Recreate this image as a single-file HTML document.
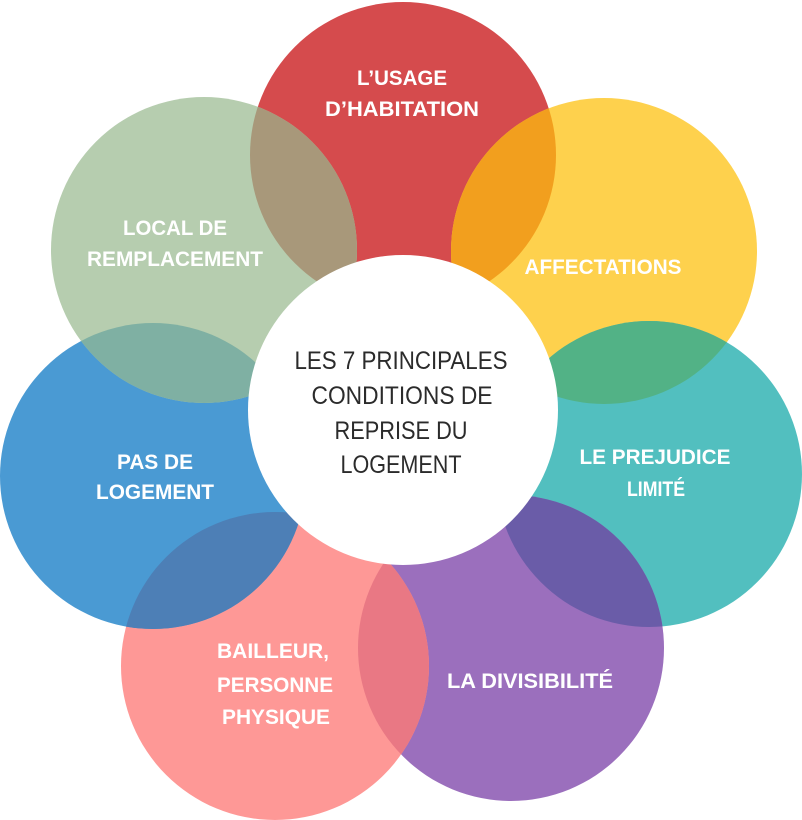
<!DOCTYPE html>
<html><head><meta charset="utf-8"><style>html,body{margin:0;padding:0;background:#fff}svg{display:block}</style></head><body>
<svg width="802" height="820" viewBox="0 0 802 820" xmlns="http://www.w3.org/2000/svg">
<defs>
<clipPath id="cR"><circle cx="403" cy="155" r="153"/></clipPath>
<clipPath id="cY"><circle cx="604" cy="251" r="153"/></clipPath>
<clipPath id="cT"><circle cx="649" cy="474" r="153"/></clipPath>
<clipPath id="cP"><circle cx="511" cy="648" r="153"/></clipPath>
<clipPath id="cK"><circle cx="275" cy="666" r="154"/></clipPath>
<clipPath id="cB"><circle cx="153" cy="476" r="153"/></clipPath>
<clipPath id="cS"><circle cx="204" cy="250" r="153"/></clipPath>
</defs>
<circle cx="403" cy="155" r="153" fill="#d54b4d"/>
<circle cx="604" cy="251" r="153" fill="#fed14d"/>
<circle cx="649" cy="474" r="153" fill="#52bfbf"/>
<circle cx="511" cy="648" r="153" fill="#9b6fbd"/>
<circle cx="275" cy="666" r="154" fill="#fe9896"/>
<circle cx="153" cy="476" r="153" fill="#4a9ad3"/>
<circle cx="204" cy="250" r="153" fill="#b6cdaf"/>
<circle cx="604" cy="251" r="153" fill="#f29f1e" clip-path="url(#cR)"/>
<circle cx="649" cy="474" r="153" fill="#52b286" clip-path="url(#cY)"/>
<circle cx="511" cy="648" r="153" fill="#6a5ca8" clip-path="url(#cT)"/>
<circle cx="275" cy="666" r="154" fill="#e97884" clip-path="url(#cP)"/>
<circle cx="153" cy="476" r="153" fill="#4d7fb6" clip-path="url(#cK)"/>
<circle cx="204" cy="250" r="153" fill="#7fb0a3" clip-path="url(#cB)"/>
<circle cx="403" cy="155" r="153" fill="#a8987a" clip-path="url(#cS)"/>
<circle cx="403" cy="410" r="155" fill="#fff"/>
<g font-family="Liberation Sans, sans-serif" font-weight="bold" font-size="21" fill="#fff" text-anchor="middle">
<text x="402" y="85" textLength="90" lengthAdjust="spacingAndGlyphs">L’USAGE</text>
<text x="402" y="116" textLength="154" lengthAdjust="spacingAndGlyphs">D’HABITATION</text>
<text x="175" y="235" textLength="104" lengthAdjust="spacingAndGlyphs">LOCAL DE</text>
<text x="175" y="266" textLength="176" lengthAdjust="spacingAndGlyphs">REMPLACEMENT</text>
<text x="603" y="274" textLength="157" lengthAdjust="spacingAndGlyphs">AFFECTATIONS</text>
<text x="655" y="464" textLength="151" lengthAdjust="spacingAndGlyphs">LE PREJUDICE</text>
<text x="656" y="496" textLength="58" lengthAdjust="spacingAndGlyphs">LIMITÉ</text>
<text x="155" y="469" textLength="76" lengthAdjust="spacingAndGlyphs">PAS DE</text>
<text x="155" y="499" textLength="118" lengthAdjust="spacingAndGlyphs">LOGEMENT</text>
<text x="273" y="658" textLength="112" lengthAdjust="spacingAndGlyphs">BAILLEUR,</text>
<text x="275" y="692" textLength="116" lengthAdjust="spacingAndGlyphs">PERSONNE</text>
<text x="276" y="724" textLength="108" lengthAdjust="spacingAndGlyphs">PHYSIQUE</text>
<text x="530" y="688" textLength="166" lengthAdjust="spacingAndGlyphs">LA DIVISIBILITÉ</text>
</g>
<g font-family="Liberation Sans, sans-serif" font-size="25" fill="#2b2b2b" text-anchor="middle">
<text x="401" y="369" textLength="213" lengthAdjust="spacingAndGlyphs">LES 7 PRINCIPALES</text>
<text x="402" y="404" textLength="181" lengthAdjust="spacingAndGlyphs">CONDITIONS DE</text>
<text x="401" y="439" textLength="133" lengthAdjust="spacingAndGlyphs">REPRISE DU</text>
<text x="401" y="473" textLength="121" lengthAdjust="spacingAndGlyphs">LOGEMENT</text>
</g>
</svg>
</body></html>
